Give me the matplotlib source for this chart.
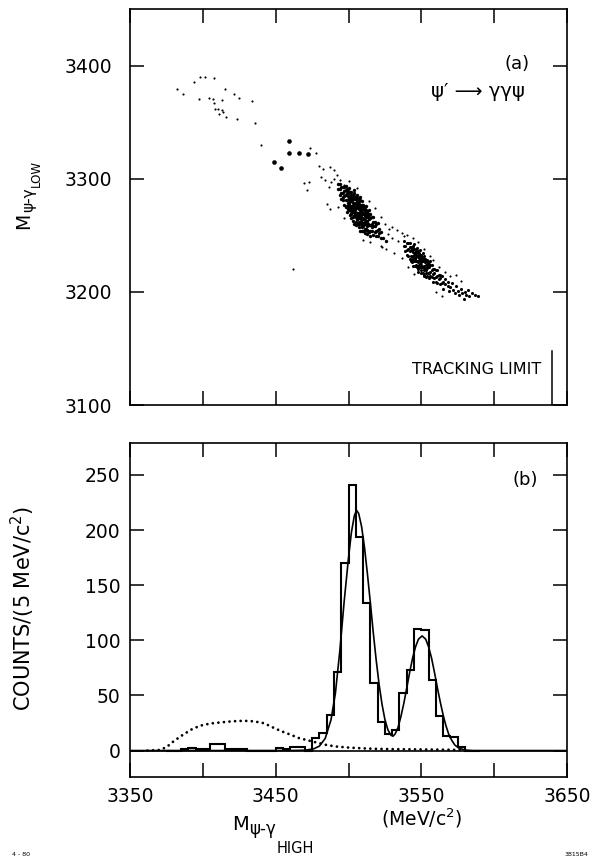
import numpy as np
import matplotlib
matplotlib.use("Agg")
import matplotlib.pyplot as plt

plt.rcParams['font.family'] = ['DejaVu Sans']
plt.rcParams['mathtext.fontset'] = 'dejavusans'

# ---- (a) scatter: M(psi-gamma high) vs M(psi-gamma low), MeV ----
big_pts = [(3459.3, 3333.4), (3458.9, 3322.8), (3466.0, 3322.5), (3472.2, 3322.0),
           (3448.8, 3314.6), (3453.9, 3309.7)]

halo_pts = [(3382.3, 3379), (3386.4, 3375), (3393.7, 3385.5), (3398.3, 3390), (3401.7, 3390),
            (3407.9, 3389), (3415.4, 3379.6), (3421.1, 3374.7), (3424.6, 3371.7), (3433.8, 3368.8),
            (3397.1, 3370.8), (3404.5, 3371.4), (3406.7, 3370.8), (3407.4, 3367.3), (3413.2, 3369.4),
            (3408.6, 3361.5), (3410.2, 3361.8), (3413.2, 3360.6), (3413.9, 3359.1), (3411.3, 3357.1),
            (3415.9, 3355), (3423.5, 3352.7), (3435.5, 3348.9), (3440.1, 3330.1), (3473.8, 3327.5),
            (3477.7, 3322.5), (3461.9, 3220),
            (3479.9, 3311.7), (3482.5, 3308.8), (3487.5, 3310.2), (3489.7, 3307.3), (3481.1, 3301.4),
            (3484, 3298.5), (3492, 3302.9), (3486.4, 3292.6), (3485.2, 3278), (3487, 3273.6),
            (3469.2, 3296.1), (3472.6, 3297), (3471.5, 3289.7), (3494.3, 3298.5), (3496.6, 3294.1),
            (3490, 3300), (3488, 3297), (3500, 3298), (3506, 3292), (3514, 3280), (3518, 3274),
            (3522, 3266), (3525, 3260), (3528, 3256), (3522, 3241), (3515, 3244), (3497, 3265),
            (3493, 3275), (3527, 3251), (3530, 3248), (3523, 3240), (3526, 3238), (3510, 3246),
            (3529.8, 3257.5), (3533.2, 3254.6), (3536.7, 3251.7), (3531, 3234), (3534, 3245),
            (3538, 3249),
            (3566, 3218), (3570, 3214), (3574, 3215), (3562, 3222), (3558, 3228), (3537, 3230),
            (3541, 3222), (3545, 3216), (3556, 3232), (3552, 3238), (3548, 3244), (3544, 3248),
            (3560, 3200), (3564, 3196), (3540, 3250), (3577, 3210)]

chi1_pts = [(3493, 3291), (3493, 3295), (3494, 3291), (3494, 3286), (3494, 3295),
            (3495, 3287), (3495, 3293), (3495, 3282), (3496, 3287), (3496, 3281), (3496, 3293), (3496, 3284),
            (3497, 3285), (3497, 3289), (3497, 3277), (3497, 3293),
            (3498, 3286), (3498, 3281), (3498, 3290), (3498, 3275), (3498, 3294),
            (3499, 3281), (3499, 3287), (3499, 3276), (3499, 3291), (3499, 3271),
            (3500, 3282), (3500, 3276), (3500, 3288), (3500, 3279), (3500, 3292), (3500, 3272),
            (3501, 3280), (3501, 3284), (3501, 3272), (3501, 3288), (3501, 3276), (3501, 3268),
            (3502, 3280), (3502, 3275), (3502, 3284), (3502, 3269), (3502, 3288), (3502, 3272), (3502, 3265),
            (3503, 3276), (3503, 3282), (3503, 3271), (3503, 3286), (3503, 3266), (3503, 3279), (3503, 3263),
            (3504, 3277), (3504, 3271), (3504, 3283), (3504, 3274), (3504, 3287), (3504, 3267), (3504, 3290), (3504, 3260),
            (3505, 3274), (3505, 3278), (3505, 3266), (3505, 3282), (3505, 3270), (3505, 3262), (3505, 3285), (3505, 3259),
            (3506, 3275), (3506, 3270), (3506, 3279), (3506, 3264), (3506, 3283), (3506, 3267), (3506, 3260), (3506, 3286),
            (3507, 3270), (3507, 3276), (3507, 3265), (3507, 3280), (3507, 3260), (3507, 3273), (3507, 3257), (3507, 3283),
            (3508, 3271), (3508, 3265), (3508, 3277), (3508, 3268), (3508, 3281), (3508, 3261), (3508, 3284), (3508, 3254),
            (3509, 3269), (3509, 3273), (3509, 3261), (3509, 3277), (3509, 3265), (3509, 3257), (3509, 3280), (3509, 3254),
            (3510, 3269), (3510, 3264), (3510, 3273), (3510, 3258), (3510, 3277), (3510, 3261), (3510, 3254),
            (3511, 3265), (3511, 3271), (3511, 3260), (3511, 3275), (3511, 3255), (3511, 3268), (3511, 3252),
            (3512, 3266), (3512, 3260), (3512, 3272), (3512, 3263), (3512, 3276), (3512, 3256),
            (3513, 3263), (3513, 3267), (3513, 3255), (3513, 3271), (3513, 3259), (3513, 3251),
            (3514, 3264), (3514, 3259), (3514, 3268), (3514, 3253), (3514, 3272),
            (3515, 3259), (3515, 3265), (3515, 3254), (3515, 3269), (3515, 3249),
            (3516, 3260), (3516, 3254), (3516, 3266), (3516, 3257),
            (3517, 3258), (3517, 3262), (3517, 3250), (3517, 3266),
            (3518, 3258), (3518, 3253), (3518, 3262), (3519, 3254), (3519, 3260), (3519, 3249),
            (3520, 3255), (3520, 3249), (3520, 3261), (3521, 3252), (3521, 3256),
            (3522, 3253), (3522, 3248), (3524, 3248), (3526, 3245),
            (3499.5, 3279), (3499.5, 3285), (3499.5, 3273), (3499.5, 3289),
            (3500.5, 3283), (3500.5, 3277), (3500.5, 3287), (3500.5, 3274),
            (3501.5, 3276), (3501.5, 3282), (3501.5, 3270), (3501.5, 3286),
            (3502.5, 3281), (3502.5, 3275), (3502.5, 3285), (3502.5, 3272),
            (3503.5, 3273), (3503.5, 3279), (3503.5, 3267), (3503.5, 3283),
            (3504.5, 3278), (3504.5, 3272), (3504.5, 3282), (3504.5, 3269),
            (3505.5, 3270), (3505.5, 3276), (3505.5, 3264), (3505.5, 3280),
            (3506.5, 3275), (3506.5, 3269), (3506.5, 3279), (3506.5, 3266),
            (3507.5, 3268), (3507.5, 3274), (3507.5, 3262), (3507.5, 3278),
            (3508.5, 3272), (3508.5, 3266), (3508.5, 3276), (3508.5, 3263),
            (3509.5, 3265), (3509.5, 3271), (3509.5, 3259), (3509.5, 3275),
            (3510.5, 3270), (3510.5, 3264), (3510.5, 3274), (3510.5, 3261),
            (3511.5, 3262), (3511.5, 3268), (3511.5, 3256), (3511.5, 3272),
            (3512.5, 3267), (3512.5, 3261), (3512.5, 3271), (3512.5, 3258),
            (3513.5, 3260), (3513.5, 3266), (3513.5, 3254), (3513.5, 3269)]

chi2_pts = [(3538, 3241), (3538, 3245), (3539, 3241), (3539, 3236),
            (3540, 3237), (3540, 3243), (3540, 3233), (3541, 3238), (3541, 3232), (3541, 3243),
            (3542, 3236), (3542, 3240), (3542, 3229), (3542, 3243),
            (3543, 3237), (3543, 3232), (3543, 3240), (3543, 3227),
            (3544, 3232), (3544, 3238), (3544, 3228), (3544, 3241), (3544, 3223),
            (3545, 3233), (3545, 3227), (3545, 3238), (3545, 3230), (3545, 3242),
            (3546, 3231), (3546, 3235), (3546, 3224), (3546, 3238), (3546, 3227),
            (3547, 3232), (3547, 3227), (3547, 3235), (3547, 3222), (3547, 3239),
            (3548, 3227), (3548, 3233), (3548, 3223), (3548, 3236), (3548, 3218),
            (3549, 3228), (3549, 3222), (3549, 3233), (3549, 3225), (3549, 3237),
            (3550, 3226), (3550, 3230), (3550, 3219), (3550, 3233), (3550, 3222),
            (3551, 3227), (3551, 3222), (3551, 3230), (3551, 3217), (3551, 3234),
            (3552, 3223), (3552, 3229), (3552, 3219), (3552, 3232), (3552, 3214),
            (3553, 3223), (3553, 3217), (3553, 3228), (3553, 3220),
            (3554, 3221), (3554, 3225), (3554, 3214), (3554, 3228),
            (3555, 3222), (3555, 3217), (3555, 3225), (3555, 3212),
            (3556, 3218), (3556, 3224), (3556, 3214), (3556, 3227),
            (3557, 3219), (3557, 3213), (3557, 3224), (3558, 3216), (3558, 3220), (3558, 3209),
            (3559, 3217), (3559, 3212), (3559, 3220), (3560, 3213), (3560, 3219), (3560, 3209),
            (3561, 3214), (3561, 3208), (3561, 3219), (3562, 3211), (3562, 3215),
            (3563, 3212), (3563, 3207), (3563, 3215), (3564, 3208), (3564, 3214),
            (3565, 3209), (3565, 3203), (3566, 3207), (3566, 3211),
            (3568, 3205), (3568, 3209), (3569, 3201), (3570, 3204), (3571, 3208), (3572, 3202),
            (3573, 3199), (3574, 3205), (3575, 3201), (3576, 3197), (3577, 3203), (3578, 3199),
            (3579, 3194), (3580, 3200), (3581, 3197), (3582, 3202), (3583, 3196), (3585, 3199),
            (3587, 3197), (3589, 3196),
            (3543.5, 3231), (3543.5, 3237), (3543.5, 3226), (3544.5, 3235), (3544.5, 3229), (3544.5, 3239),
            (3545.5, 3229), (3545.5, 3234), (3545.5, 3223), (3546.5, 3233), (3546.5, 3227), (3546.5, 3236),
            (3547.5, 3226), (3547.5, 3232), (3547.5, 3220), (3548.5, 3230), (3548.5, 3224), (3548.5, 3234),
            (3549.5, 3224), (3549.5, 3229), (3549.5, 3217), (3550.5, 3228), (3550.5, 3222), (3550.5, 3231),
            (3551.5, 3221), (3551.5, 3227), (3551.5, 3215), (3552.5, 3226), (3552.5, 3220), (3552.5, 3229),
            (3553.5, 3219), (3553.5, 3224), (3553.5, 3213), (3554.5, 3223), (3554.5, 3217), (3554.5, 3226)]

# ---- (b) histogram, 5 MeV bins starting at 3375 ----
bin_lo = np.arange(3375, 3590, 5)
counts = [0, 0, 1, 2, 1, 1, 6, 6, 1, 1, 1, 0, 0, 0, 0, 2, 1, 3, 3, 0,
          11, 16, 32, 71, 170, 241, 194, 134, 61, 26, 15, 19, 52, 73, 110,
          109, 64, 31, 13, 12, 3, 0, 0]

fit_x = [3350, 3460, 3470, 3476, 3480, 3484, 3488, 3491, 3494, 3497, 3500, 3502, 3504,
         3505.5, 3507, 3509, 3511, 3513, 3515, 3517, 3519, 3521, 3523, 3525, 3527, 3529,
         3530.5, 3532, 3534, 3536, 3538, 3540, 3542, 3544, 3546, 3548, 3550.5, 3553, 3555,
         3557, 3559, 3561, 3563, 3565, 3567, 3569, 3571, 3573, 3576, 3580, 3585, 3650]
fit_y = [0, 0, 0.3, 1.5, 4, 11, 28, 52, 90, 135, 175, 198, 213,
         218, 215, 203, 184, 160, 134, 107, 82, 60, 42, 28, 19, 14,
         13, 15, 21, 31, 43, 57, 71, 84, 94, 101, 104, 101, 94,
         84, 71, 57, 44, 32, 22, 14, 9, 5, 2, 0.5, 0, 0]

bg_x = [3362, 3370, 3375, 3380, 3386, 3392, 3398, 3405, 3412, 3420, 3428, 3435, 3442,
        3448, 3454, 3460, 3466, 3472, 3478, 3485, 3492, 3500, 3510, 3520, 3535, 3550, 3565, 3580]
bg_y = [0, 0.5, 3, 8.5, 14, 19, 22.5, 24.5, 25.5, 26.5, 27, 26.5, 24.8,
        21, 17.5, 14.5, 11.3, 9.3, 7.3, 5, 3.6, 2.7, 2, 1.5, 1.2, 1, 0.8, 0.5]

W, H = 591, 860
fig = plt.figure(figsize=(W / 100, H / 100), dpi=100)
ax1 = fig.add_axes([0.22, 0.529, 0.7394, 0.4605])
ax2 = fig.add_axes([0.22, 0.0965, 0.7394, 0.3884])

for ax in (ax1, ax2):
    ax.set_xlim(3350, 3650)
    ax.set_xticks(np.arange(3350, 3651, 50))
    ax.tick_params(direction='in', length=10, width=1.1, top=True, right=True,
                   labelsize=13.5, pad=7)
    for sp in ax.spines.values():
        sp.set_linewidth(1.2)

# panel (a)
for pts, size in ((halo_pts, 2.4), (chi1_pts, 6.0), (chi2_pts, 5.0)):
    xs, ys = zip(*pts)
    ax1.scatter(xs, ys, s=size, c='black', linewidths=0)
bx, by = zip(*big_pts)
ax1.scatter(bx, by, s=11, c='black', linewidths=0)
ax1.set_ylim(3100, 3450)
ax1.set_yticks([3100, 3200, 3300, 3400])
ax1.set_xticklabels([])
ax1.tick_params(axis='y', pad=13)
ax1.plot([3640, 3640], [3100, 3148], color='black', lw=1.1)
ax1.text(3616, 3401, "(a)", fontsize=13, ha='center', va='center')
ax1.text(3589, 3377, "ψ′ ⟶ γγψ", fontsize=14, ha='center', va='center')
ax1.text(3588, 3131, "TRACKING LIMIT", fontsize=11.5, ha='center', va='center')

# panel (b)
edges = np.append(bin_lo, bin_lo[-1] + 5)
ax2.axhline(0, color='black', lw=1.2)
ax2.stairs(counts, edges, color='black', lw=1.5)
ax2.plot(fit_x, fit_y, color='black', lw=1.2)
ax2.plot(bg_x, bg_y, color='black', lw=2.0, linestyle=(0, (0.01, 2.0)),
         dash_capstyle='round')
ax2.set_ylim(-24, 279)
ax2.set_yticks([0, 50, 100, 150, 200, 250])
ax2.set_xticklabels(['3350', '', '3450', '', '3550', '', '3650'])
ax2.text(3621, 245, "(b)", fontsize=13, ha='center', va='center')

fig.text(23 / W, 1 - 608 / H, r"COUNTS/(5 MeV/c$^2$)", fontsize=15,
         rotation=90, ha='center', va='center')
fig.text(381 / W, 1 - 826 / H, r"(MeV/c$^2$)", fontsize=13.5, ha='left', va='baseline')
fig.text(12 / W, 1 - 856 / H, "4 - 80", fontsize=4.5, ha='left', va='baseline')
fig.text(588 / W, 1 - 856 / H, "3815B4", fontsize=4.5, ha='right', va='baseline')

# axis labels with a large nested subscript, placed piece by piece
renderer = fig.canvas.get_renderer()

# y label of (a): rotated, reading upwards
y_px = H - 229
for s, size, xc in (("M", 13.5, 24), ("ψ-γ", 11, 29), ("LOW", 8.5, 36)):
    t = fig.text(xc / W, y_px / H, s, fontsize=size, rotation=90, ha='center', va='bottom')
    y_px = t.get_window_extent(renderer).y1 + 0.5

# x label of (b)
x_px = 232
for s, size, yb in (("M", 14, 830), ("ψ-γ", 12, 834), ("HIGH", 10.5, 853)):
    t = fig.text(x_px / W, 1 - yb / H, s, fontsize=size, ha='left', va='baseline')
    x_px = t.get_window_extent(renderer).x1 + 0.5

fig.savefig("out.png", dpi=100)
